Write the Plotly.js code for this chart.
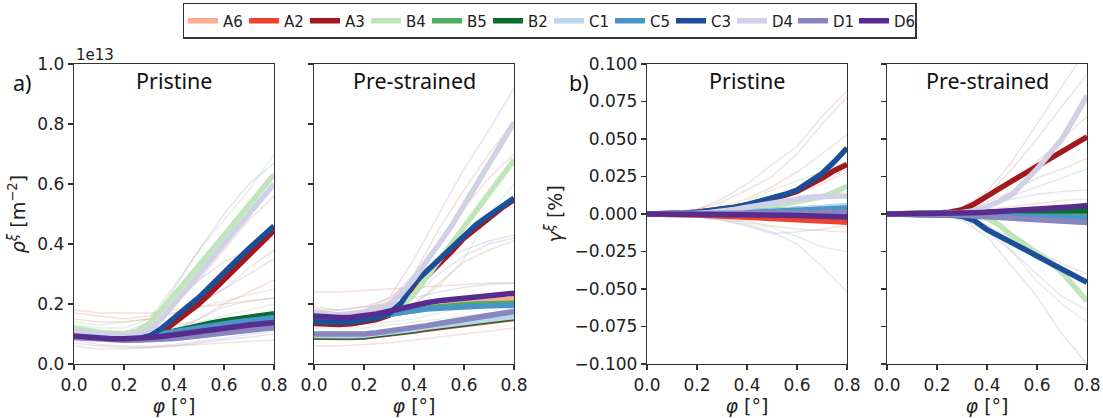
<!DOCTYPE html>
<html>
<head>
<meta charset="utf-8">
<script src="https://cdn.plot.ly/plotly-3.0.1.min.js"></script>
<style>html,body{margin:0;padding:0;background:#fff}#chart{width:1103px;height:418px}</style>
</head>
<body>
<div id="chart"></div>
<script>
// ---------- data ----------
const seriesNames = ['A6','A2','A3','B4','B5','B2','C1','C5','C3','D4','D1','D6'];
const seriesColors = ['#fcab8f','#f0432f','#a2181d','#bfe5b9','#4bae60','#0c6b2f','#bbd6eb','#4896c8','#1b4f98','#d0d0e7','#8985be','#582b8f'];
// strain axis phi [deg]
const phi = [0,0.05,0.1,0.15,0.2,0.25,0.3,0.35,0.4,0.45,0.5,0.55,0.6,0.65,0.7,0.75,0.8];
const phiFaint = [0,0.1,0.2,0.3,0.4,0.5,0.6,0.7,0.8];

// rho (units of 1e13 m^-2), pristine
const rhoPristine_A6 = [0.105,0.1,0.096,0.093,0.091,0.09,0.092,0.095,0.098,0.102,0.106,0.11,0.115,0.12,0.125,0.13,0.135];
const rhoPristine_A2 = [0.09,0.088,0.085,0.083,0.082,0.082,0.083,0.085,0.088,0.092,0.097,0.102,0.107,0.111,0.115,0.119,0.122];
const rhoPristine_A3 = [0.095,0.092,0.089,0.087,0.086,0.087,0.09,0.105,0.135,0.168,0.2,0.24,0.28,0.32,0.362,0.4,0.445];
const rhoPristine_B4 = [0.12,0.112,0.106,0.102,0.1,0.108,0.135,0.18,0.228,0.278,0.328,0.378,0.428,0.478,0.528,0.58,0.632];
const rhoPristine_B5 = [0.1,0.095,0.092,0.09,0.09,0.091,0.093,0.097,0.103,0.11,0.117,0.124,0.13,0.136,0.142,0.148,0.154];
const rhoPristine_B2 = [0.098,0.094,0.09,0.088,0.088,0.089,0.092,0.1,0.11,0.12,0.13,0.137,0.144,0.15,0.156,0.162,0.168];
const rhoPristine_C1 = [0.1,0.096,0.093,0.091,0.09,0.091,0.094,0.1,0.106,0.112,0.118,0.124,0.13,0.135,0.14,0.145,0.15];
const rhoPristine_C5 = [0.095,0.092,0.089,0.087,0.087,0.088,0.092,0.1,0.108,0.115,0.122,0.128,0.134,0.14,0.145,0.15,0.155];
const rhoPristine_C3 = [0.092,0.089,0.087,0.085,0.085,0.087,0.092,0.118,0.155,0.188,0.222,0.265,0.305,0.345,0.385,0.422,0.46];
const rhoPristine_D4 = [0.11,0.104,0.1,0.097,0.096,0.1,0.115,0.15,0.2,0.25,0.3,0.35,0.4,0.45,0.5,0.55,0.6];
const rhoPristine_D1 = [0.088,0.085,0.082,0.08,0.079,0.079,0.08,0.082,0.085,0.089,0.094,0.099,0.104,0.109,0.114,0.118,0.122];
const rhoPristine_D6 = [0.093,0.089,0.086,0.084,0.084,0.085,0.088,0.092,0.098,0.104,0.11,0.115,0.12,0.125,0.13,0.134,0.138];

// rho, pre-strained
const rhoPre_A6 = [0.15,0.148,0.147,0.149,0.153,0.159,0.166,0.173,0.18,0.186,0.192,0.197,0.202,0.206,0.21,0.214,0.218];
const rhoPre_A2 = [0.089,0.088,0.087,0.088,0.09,0.094,0.099,0.104,0.11,0.116,0.122,0.127,0.132,0.137,0.142,0.147,0.152];
const rhoPre_A3 = [0.135,0.133,0.132,0.134,0.14,0.148,0.162,0.195,0.25,0.29,0.33,0.375,0.42,0.455,0.488,0.52,0.548];
const rhoPre_B4 = [0.165,0.162,0.16,0.162,0.166,0.172,0.18,0.19,0.233,0.289,0.345,0.4,0.457,0.512,0.568,0.624,0.68];
const rhoPre_B5 = [0.148,0.146,0.145,0.147,0.152,0.158,0.165,0.172,0.18,0.186,0.191,0.195,0.198,0.2,0.201,0.202,0.203];
const rhoPre_B2 = [0.091,0.09,0.089,0.09,0.092,0.096,0.101,0.106,0.112,0.118,0.124,0.129,0.134,0.139,0.144,0.149,0.154];
const rhoPre_C1 = [0.095,0.094,0.093,0.094,0.096,0.1,0.105,0.11,0.116,0.122,0.128,0.133,0.138,0.143,0.148,0.153,0.158];
const rhoPre_C5 = [0.145,0.143,0.142,0.145,0.15,0.158,0.166,0.173,0.179,0.183,0.186,0.189,0.191,0.193,0.194,0.195,0.195];
const rhoPre_C3 = [0.141,0.139,0.138,0.14,0.145,0.153,0.168,0.205,0.27,0.31,0.345,0.39,0.43,0.465,0.495,0.525,0.553];
const rhoPre_D4 = [0.17,0.166,0.164,0.166,0.172,0.182,0.198,0.235,0.285,0.34,0.4,0.46,0.53,0.6,0.67,0.74,0.805];
const rhoPre_D1 = [0.1,0.099,0.098,0.098,0.1,0.104,0.109,0.115,0.122,0.128,0.135,0.141,0.147,0.154,0.161,0.168,0.175];
const rhoPre_D6 = [0.16,0.157,0.155,0.156,0.16,0.167,0.176,0.186,0.196,0.204,0.211,0.216,0.22,0.224,0.228,0.232,0.236];

// gamma [%], pristine
const gamPristine_A6 = [0,0,-0.0001,-0.0003,-0.0005,-0.0008,-0.0011,-0.0014,-0.0017,-0.002,-0.0023,-0.0026,-0.0029,-0.0032,-0.0035,-0.0038,-0.0042];
const gamPristine_A2 = [0,0,-0.0002,-0.0004,-0.0007,-0.001,-0.0013,-0.0017,-0.0021,-0.0026,-0.003,-0.0034,-0.0038,-0.0042,-0.0046,-0.005,-0.0055];
const gamPristine_A3 = [0,0,0.0003,0.0007,0.0012,0.002,0.003,0.0043,0.006,0.008,0.0102,0.0125,0.015,0.019,0.024,0.029,0.033];
const gamPristine_B4 = [0,0,0,0.0002,0.0004,0.0008,0.0013,0.002,0.0028,0.0038,0.005,0.0068,0.0085,0.0098,0.0115,0.0145,0.0185];
const gamPristine_B5 = [0,0,0,0.0001,0.0002,0.0004,0.0006,0.0009,0.0013,0.0017,0.0021,0.0026,0.003,0.0035,0.004,0.0045,0.005];
const gamPristine_B2 = [0,0,0,0,0.0001,0.0002,0.0003,0.0005,0.0007,0.0009,0.0011,0.0013,0.0015,0.0017,0.0019,0.0021,0.0023];
const gamPristine_C1 = [0,0,0,0.0001,0.0002,0.0004,0.0006,0.0009,0.0012,0.0016,0.002,0.0026,0.0032,0.0038,0.0044,0.005,0.0056];
const gamPristine_C5 = [0,0,0,0.0001,0.0002,0.0003,0.0005,0.0007,0.001,0.0013,0.0016,0.002,0.0024,0.0028,0.0032,0.0036,0.004];
const gamPristine_C3 = [0,0,0.0003,0.0007,0.0012,0.002,0.003,0.0045,0.0062,0.0082,0.0105,0.013,0.016,0.021,0.027,0.035,0.044];
const gamPristine_D4 = [0,0,0,0.0002,0.0005,0.001,0.0018,0.003,0.0045,0.006,0.0075,0.009,0.0105,0.0112,0.0116,0.0118,0.012];
const gamPristine_D1 = [0,0,0,0,0,0.0001,0.0002,0.0003,0.0004,0.0005,0.0006,0.0007,0.0008,0.0009,0.001,0.0011,0.0012];
const gamPristine_D6 = [0,0,0,0,-0.0001,-0.0001,-0.0002,-0.0003,-0.0004,-0.0005,-0.0006,-0.0008,-0.001,-0.0012,-0.0014,-0.0017,-0.002];

// gamma [%], pre-strained
const gamPre_A6 = [0,0,-0.0001,-0.0002,-0.0003,-0.0005,-0.0007,-0.001,-0.0013,-0.0016,-0.0019,-0.0021,-0.0023,-0.0025,-0.0027,-0.0029,-0.003];
const gamPre_A2 = [0,0,0,0,0.0001,0.0002,0.0003,0.0005,0.0007,0.0009,0.001,0.0011,0.0012,0.0013,0.0014,0.0015,0.0016];
const gamPre_A3 = [0,0,0.0002,0.0004,0.0007,0.0012,0.0028,0.0067,0.0122,0.017,0.022,0.027,0.032,0.0365,0.041,0.046,0.0515];
const gamPre_B4 = [0,0,0,-0.0001,-0.0002,-0.0003,-0.0005,-0.0012,-0.0028,-0.0075,-0.0145,-0.02,-0.0255,-0.032,-0.039,-0.049,-0.058];
const gamPre_B5 = [0,0,0,0,0.0001,0.0002,0.0003,0.0004,0.0005,0.0006,0.0007,0.0008,0.0009,0.001,0.0011,0.0012,0.0013];
const gamPre_B2 = [0,0,0.0001,0.0002,0.0003,0.0005,0.0008,0.0012,0.0015,0.0018,0.002,0.0021,0.0022,0.0022,0.0022,0.0022,0.0022];
const gamPre_C1 = [0,0,-0.0001,-0.0002,-0.0003,-0.0004,-0.0006,-0.0008,-0.001,-0.0013,-0.0016,-0.0019,-0.0022,-0.0025,-0.0028,-0.003,-0.0032];
const gamPre_C5 = [0,0,0,-0.0001,-0.0002,-0.0003,-0.0004,-0.0006,-0.0008,-0.001,-0.0012,-0.0014,-0.0016,-0.0018,-0.002,-0.0022,-0.0024];
const gamPre_C3 = [0,0,-0.0001,-0.0002,-0.0003,-0.0006,-0.0015,-0.0045,-0.0105,-0.0145,-0.0185,-0.0235,-0.028,-0.0322,-0.0367,-0.041,-0.0455];
const gamPre_D4 = [0,0,0.0001,0.0002,0.0004,0.0006,0.001,0.0022,0.005,0.0085,0.013,0.021,0.03,0.04,0.05,0.064,0.079];
const gamPre_D1 = [0,0,-0.0001,-0.0002,-0.0004,-0.0006,-0.0009,-0.0013,-0.0017,-0.0022,-0.0027,-0.0032,-0.0037,-0.0042,-0.0047,-0.0052,-0.0057];
const gamPre_D6 = [0,0,0,0.0001,0.0002,0.0004,0.0006,0.0009,0.0012,0.0016,0.002,0.0025,0.003,0.0036,0.0042,0.0049,0.0056];

// individual (faint) runs: group letter + values at phiFaint
const faintRhoPristineGroups = ['D','B','A','D','A','D','B','A','C','A','D','B','A','D'];
const faintRhoPristine = [
  [0.12,0.11,0.105,0.14,0.25,0.38,0.5,0.6,0.67],
  [0.13,0.12,0.12,0.15,0.26,0.38,0.48,0.58,0.7],
  [0.17,0.16,0.15,0.16,0.2,0.28,0.38,0.48,0.56],
  [0.1,0.09,0.09,0.12,0.2,0.28,0.34,0.38,0.42],
  [0.15,0.14,0.14,0.15,0.17,0.2,0.25,0.32,0.38],
  [0.11,0.1,0.1,0.11,0.15,0.2,0.25,0.3,0.35],
  [0.14,0.13,0.14,0.15,0.17,0.19,0.21,0.23,0.25],
  [0.09,0.08,0.08,0.09,0.11,0.15,0.2,0.24,0.28],
  [0.1,0.09,0.09,0.1,0.12,0.15,0.19,0.21,0.22],
  [0.07,0.06,0.055,0.055,0.06,0.065,0.07,0.075,0.08],
  [0.08,0.065,0.06,0.06,0.065,0.075,0.085,0.1,0.11],
  [0.12,0.11,0.11,0.12,0.13,0.14,0.16,0.18,0.2],
  [0.18,0.17,0.17,0.17,0.18,0.19,0.2,0.21,0.22],
  [0.06,0.05,0.05,0.055,0.06,0.07,0.08,0.09,0.1]
];
const faintRhoPreGroups = ['D','A','A','D','A','D','A','D','A','C','B','B','C'];
const faintRhoPre = [
  [0.17,0.17,0.18,0.22,0.35,0.5,0.65,0.78,0.92],
  [0.18,0.17,0.18,0.21,0.3,0.45,0.58,0.7,0.81],
  [0.19,0.18,0.19,0.22,0.28,0.4,0.52,0.62,0.7],
  [0.16,0.16,0.17,0.2,0.27,0.34,0.38,0.41,0.43],
  [0.15,0.14,0.15,0.17,0.2,0.27,0.34,0.38,0.41],
  [0.17,0.16,0.17,0.19,0.23,0.3,0.36,0.4,0.42],
  [0.24,0.24,0.245,0.25,0.255,0.26,0.265,0.27,0.27],
  [0.18,0.18,0.19,0.2,0.22,0.24,0.255,0.265,0.27],
  [0.06,0.06,0.065,0.07,0.08,0.09,0.1,0.11,0.12],
  [0.09,0.09,0.095,0.1,0.11,0.12,0.13,0.14,0.15],
  [0.14,0.14,0.15,0.17,0.2,0.26,0.35,0.5,0.6],
  [0.12,0.12,0.12,0.13,0.14,0.15,0.16,0.17,0.18],
  [0.13,0.13,0.13,0.14,0.15,0.17,0.19,0.2,0.21]
];
const faintGamPristineGroups = ['D','A','A','B','D','B','D','A','C','D','A','B'];
const faintGamPristine = [
  [0,0.001,0.003,0.01,0.02,0.033,0.045,0.065,0.082],
  [0,0.001,0.003,0.008,0.016,0.025,0.04,0.06,0.078],
  [0,0.0005,0.002,0.005,0.01,0.018,0.028,0.04,0.053],
  [0,0.0005,0.002,0.004,0.008,0.016,0.022,0.028,0.035],
  [0,-0.001,-0.002,-0.004,-0.007,-0.012,-0.02,-0.035,-0.052],
  [0,-0.0005,-0.001,-0.003,-0.006,-0.009,-0.015,-0.022,-0.025],
  [0,-0.001,-0.002,-0.004,-0.008,-0.013,-0.012,-0.01,-0.008],
  [0,-0.0005,-0.001,-0.003,-0.005,-0.008,-0.01,-0.011,-0.012],
  [0,0.0005,0.001,0.002,0.004,0.006,0.008,0.01,0.013],
  [0,0.0005,0.001,0.003,0.006,0.01,0.016,0.022,0.03],
  [0,0,0.001,0.002,0.004,0.008,0.014,0.02,0.028],
  [0,0,0.001,0.002,0.003,0.005,0.008,0.012,0.015]
];
const faintGamPreGroups = ['D','A','A','A','D','D','D','D','B','A','A','D'];
const faintGamPre = [
  [0,0,0.001,0.004,0.015,0.035,0.06,0.085,0.11],
  [0,0,0.001,0.003,0.012,0.03,0.05,0.072,0.093],
  [0,0,0.001,0.003,0.01,0.02,0.035,0.05,0.065],
  [0,0,0.0005,0.002,0.008,0.015,0.024,0.03,0.037],
  [0,0,0.0005,0.002,0.006,0.01,0.013,0.015,0.016],
  [0,0,-0.001,-0.004,-0.015,-0.035,-0.055,-0.08,-0.1],
  [0,0,-0.001,-0.003,-0.012,-0.025,-0.04,-0.055,-0.064],
  [0,0,-0.0005,-0.002,-0.008,-0.016,-0.025,-0.033,-0.04],
  [0,0,-0.0005,-0.002,-0.008,-0.025,-0.045,-0.06,-0.072],
  [0,0,0,-0.001,-0.002,-0.004,-0.005,-0.006,-0.007],
  [0,0,0.0005,0.001,0.003,0.005,0.007,0.009,0.01],
  [0,0,0.0005,0.002,0.006,0.012,0.018,0.024,0.03]
];
const faintColors = {A:'rgba(205,120,90,0.22)', B:'rgba(120,185,120,0.2)', C:'rgba(120,170,215,0.2)', D:'rgba(135,135,200,0.22)'};

const xTickVals = [0,0.2,0.4,0.6,0.8];
const rhoTickVals = [0,0.2,0.4,0.6,0.8,1.0];
const gamTickVals = [-0.1,-0.075,-0.05,-0.025,0,0.025,0.05,0.075,0.1];

// ---------- build traces ----------
const panels = [
  {xa:'x', ya:'y', faint:faintRhoPristine, fg:faintRhoPristineGroups,
   main:[rhoPristine_A6,rhoPristine_A2,rhoPristine_A3,rhoPristine_B4,rhoPristine_B5,rhoPristine_B2,rhoPristine_C1,rhoPristine_C5,rhoPristine_C3,rhoPristine_D4,rhoPristine_D1,rhoPristine_D6]},
  {xa:'x2', ya:'y2', faint:faintRhoPre, fg:faintRhoPreGroups,
   main:[rhoPre_A6,rhoPre_A2,rhoPre_A3,rhoPre_B4,rhoPre_B5,rhoPre_B2,rhoPre_C1,rhoPre_C5,rhoPre_C3,rhoPre_D4,rhoPre_D1,rhoPre_D6]},
  {xa:'x3', ya:'y3', faint:faintGamPristine, fg:faintGamPristineGroups,
   main:[gamPristine_A6,gamPristine_A2,gamPristine_A3,gamPristine_B4,gamPristine_B5,gamPristine_B2,gamPristine_C1,gamPristine_C5,gamPristine_C3,gamPristine_D4,gamPristine_D1,gamPristine_D6]},
  {xa:'x4', ya:'y4', faint:faintGamPre, fg:faintGamPreGroups,
   main:[gamPre_A6,gamPre_A2,gamPre_A3,gamPre_B4,gamPre_B5,gamPre_B2,gamPre_C1,gamPre_C5,gamPre_C3,gamPre_D4,gamPre_D1,gamPre_D6]}
];
const traces = [];
panels.forEach(p => {
  p.faint.forEach((vals, i) => {
    traces.push({x:phiFaint, y:vals, xaxis:p.xa, yaxis:p.ya, mode:'lines', showlegend:false, hoverinfo:'skip',
      line:{color:faintColors[p.fg[i]], width:1.5}});
  });
});
panels.forEach((p, pi) => {
  p.main.forEach((vals, i) => {
    traces.push({x:phi, y:vals, xaxis:p.xa, yaxis:p.ya, mode:'lines', name:seriesNames[i],
      legendgroup:seriesNames[i], showlegend:pi===0,
      line:{color:seriesColors[i], width:5.5}});
  });
});

// ---------- layout ----------
const tickFont = {family:'DejaVu Sans', size:17, color:'#222'};
const base = {showline:true, mirror:true, linecolor:'#333', linewidth:1.2, ticks:'outside', ticklen:5,
  tickwidth:1.2, tickcolor:'#333', showgrid:false, zeroline:false, tickfont:tickFont};
const axTitleFont = {family:'DejaVu Sans', size:19, color:'#222'};
const xTitle = {text:'<i>φ</i> [°]', font:axTitleFont, standoff:4};
function xa(dom, anchor){ return Object.assign({}, base, {domain:dom, anchor:anchor, range:[0,0.8], tickvals:xTickVals, tickformat:'.1f', title:xTitle}); }
const titleFont = {family:'Noto Sans', size:21.5, color:'#111'};
const layout = {
  width:1103, height:418,
  margin:{l:74, r:16, t:64, b:54},
  paper_bgcolor:'#fff', plot_bgcolor:'#fff',
  font:{family:'DejaVu Sans', color:'#222'},
  xaxis: xa([0,0.1974],'y'),
  xaxis2: xa([0.2369,0.4344],'y2'),
  xaxis3: xa([0.5656,0.7631],'y3'),
  xaxis4: xa([0.8026,1],'y4'),
  yaxis: Object.assign({}, base, {anchor:'x', range:[0,1], tickvals:rhoTickVals, tickformat:'.1f',
    title:{text:'<i>ρ</i><sup><i>ξ</i></sup> [m<sup>−2</sup>]', font:axTitleFont, standoff:6}}),
  yaxis2: Object.assign({}, base, {anchor:'x2', range:[0,1], tickvals:rhoTickVals, showticklabels:false}),
  yaxis3: Object.assign({}, base, {anchor:'x3', range:[-0.1,0.1], tickvals:gamTickVals, tickformat:'.3f',
    title:{text:'<i>γ</i><sup><i>ξ</i></sup> [%]', font:axTitleFont, standoff:6}}),
  yaxis4: Object.assign({}, base, {anchor:'x4', range:[-0.1,0.1], tickvals:gamTickVals, showticklabels:false}),
  showlegend:true,
  legend:{orientation:'h', xref:'container', yref:'container', x:0.1659, xanchor:'left', y:0.993, yanchor:'top',
    bordercolor:'#333', borderwidth:1.5, bgcolor:'#fff',
    font:{family:'DejaVu Sans', size:15, color:'#222'},
    entrywidth:16, entrywidthmode:'pixels', tracegroupgap:0},
  annotations:[
    {text:'1e13', xref:'paper', yref:'paper', x:0, y:1, xanchor:'left', yanchor:'bottom', showarrow:false, font:{family:'DejaVu Sans', size:15, color:'#222'}, yshift:-2},
    {text:'a)', xref:'paper', yref:'paper', x:-0.062, y:0.94, xanchor:'left', yanchor:'middle', showarrow:false, font:titleFont},
    {text:'b)', xref:'paper', yref:'paper', x:0.4865, y:0.94, xanchor:'left', yanchor:'middle', showarrow:false, font:titleFont},
    {text:'Pristine', xref:'x domain', yref:'y domain', x:0.5, y:0.945, xanchor:'center', yanchor:'middle', showarrow:false, font:titleFont},
    {text:'Pre-strained', xref:'x2 domain', yref:'y2 domain', x:0.5, y:0.945, xanchor:'center', yanchor:'middle', showarrow:false, font:titleFont},
    {text:'Pristine', xref:'x3 domain', yref:'y3 domain', x:0.5, y:0.945, xanchor:'center', yanchor:'middle', showarrow:false, font:titleFont},
    {text:'Pre-strained', xref:'x4 domain', yref:'y4 domain', x:0.5, y:0.945, xanchor:'center', yanchor:'middle', showarrow:false, font:titleFont}
  ]
};
Plotly.newPlot('chart', traces, layout, {displayModeBar:false, staticPlot:true});
</script>
</body>
</html>
